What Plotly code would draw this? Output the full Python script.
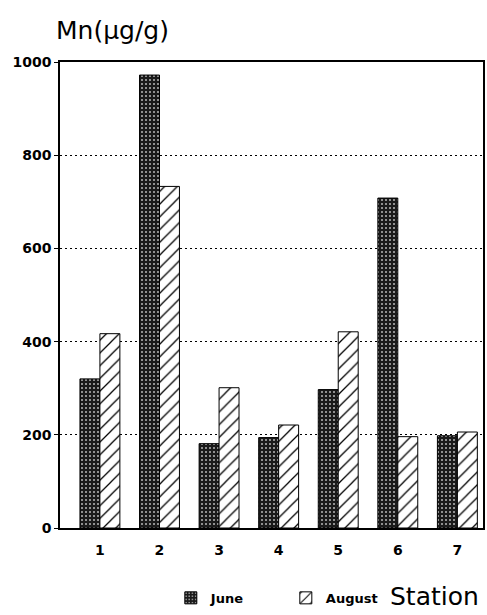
import plotly.graph_objects as go

# Manganese concentration by sampling station
stations = ["1", "2", "3", "4", "5", "6", "7"]
june = [320, 972, 181, 194, 297, 708, 198]
august = [417, 733, 301, 221, 421, 196, 206]
y_ticks = [0, 200, 400, 600, 800, 1000]

x_pos = list(range(1, len(stations) + 1))

fig = go.Figure()
fig.add_trace(go.Bar(
    x=x_pos, y=june, name="June",
    marker=dict(
        color="#1c1c1c",
        line=dict(color="black", width=1),
        pattern=dict(shape=".", fgcolor="#b8b8b8", bgcolor="#1a1a1a",
                     size=4, solidity=0.2, fillmode="replace"),
    ),
))
fig.add_trace(go.Bar(
    x=x_pos, y=august, name="August",
    marker=dict(
        color="white",
        line=dict(color="black", width=1),
        pattern=dict(shape="/", fgcolor="black", bgcolor="white",
                     size=9, solidity=0.14, fillmode="replace"),
    ),
))

base_family = "DejaVu Sans, Liberation Sans, sans-serif"
tick_font = dict(family=base_family, size=14, color="black", weight="bold")

fig.update_layout(
    width=487, height=615,
    margin=dict(l=60, r=2, t=62, b=87),
    paper_bgcolor="white", plot_bgcolor="white",
    barmode="group", bargap=0.33, bargroupgap=0,
    showlegend=True,
    legend=dict(
        orientation="h", x=0.262, y=-0.150, xanchor="left", yanchor="middle",
        font=dict(family=base_family, size=13, color="black", weight="bold"),
        entrywidth=70, entrywidthmode="pixels",
        bgcolor="rgba(0,0,0,0)", traceorder="normal",
        itemclick=False,
    ),
    xaxis=dict(
        range=[0.33, 7.43], tickvals=x_pos, ticktext=stations,
        showline=True, linecolor="black", linewidth=1.5, mirror=True,
        ticks="", showgrid=False, zeroline=False, tickfont=tick_font,
        ticklabelstandoff=8,
    ),
    yaxis=dict(
        range=[0, 1000], tickvals=y_ticks,
        ticktext=[str(v) for v in y_ticks],
        showline=True, linecolor="black", linewidth=1.5, mirror=True,
        ticks="outside", ticklen=4, tickcolor="black", tickwidth=1,
        showgrid=True, gridcolor="black", gridwidth=1, griddash="2px,3px",
        zeroline=False, tickfont=tick_font,
    ),
    annotations=[
        dict(text="Mn(μg/g)", xref="paper", yref="paper", x=-0.014, y=1.068,
             xanchor="left", yanchor="middle", showarrow=False,
             font=dict(family=base_family, size=25, color="black")),
        dict(text="Station", xref="paper", yref="paper", x=0.995, y=-0.148,
             xanchor="right", yanchor="middle", showarrow=False,
             font=dict(family=base_family, size=25, color="black")),
    ],
)

fig.write_html("out.html")
